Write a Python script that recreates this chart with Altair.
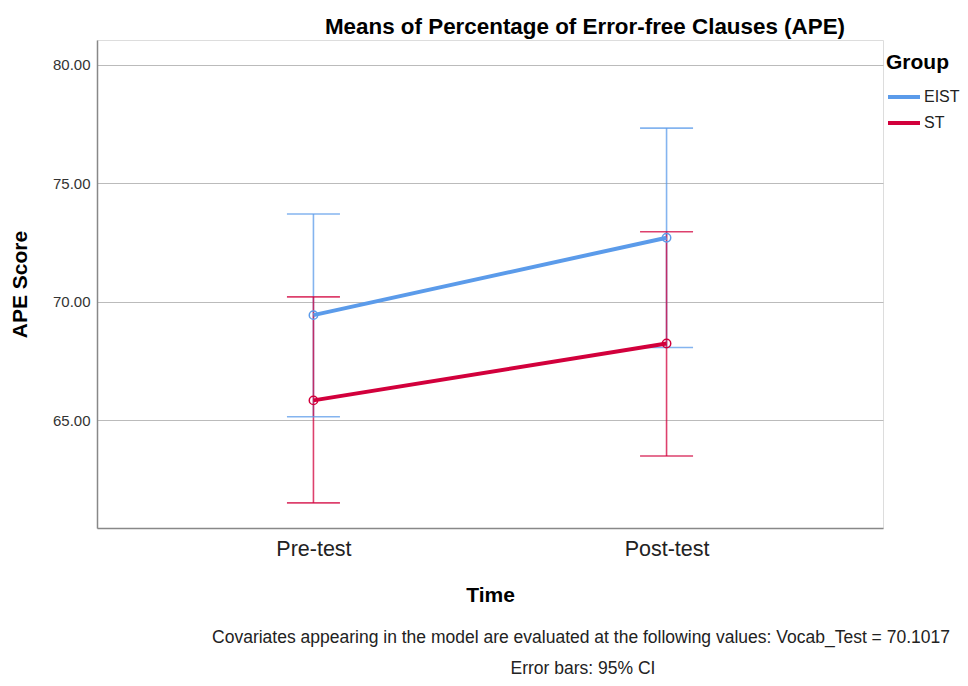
import altair as alt
import pandas as pd

times = ["Pre-test", "Post-test"]
groups = ["EIST", "ST"]
eist_mean = [69.43, 72.70]
eist_lower = [65.14, 68.06]
eist_upper = [73.70, 77.33]
st_mean = [65.83, 68.23]
st_lower = [61.50, 63.48]
st_upper = [70.20, 72.95]

rows = []
for i, t in enumerate(times):
    rows.append({"Time": t, "Group": "EIST", "mean": eist_mean[i], "lower": eist_lower[i], "upper": eist_upper[i]})
for i, t in enumerate(times):
    rows.append({"Time": t, "Group": "ST", "mean": st_mean[i], "lower": st_lower[i], "upper": st_upper[i]})
df = pd.DataFrame(rows)

FONT = "Liberation Sans"
colors = ["#5B9BEA", "#D2003C"]

x_enc = alt.X("Time:N", sort=times,
              scale=alt.Scale(type="point", padding=0.613),
              axis=alt.Axis(title="Time", labelAngle=0, labelFontSize=21.5, labelColor="#222222",
                            labelFont=FONT, labelPadding=10, ticks=False, domainColor="#888888",
                            domainWidth=1.5, titleFont=FONT, titleFontSize=21, titleFontWeight="bold",
                            titleColor="#000000", titlePadding=25, grid=False))
y_scale = alt.Scale(domain=[60.44, 81.05], nice=False, zero=False)
y_axis = alt.Axis(title="APE Score", values=[65, 70, 75, 80], format=".2f", labelFontSize=15,
                  labelFont=FONT, labelColor="#333333", ticks=False, labelPadding=7,
                  domainColor="#888888", domainWidth=1.5, gridColor="#BBBBBB", gridWidth=1.2,
                  titleFont=FONT, titleFontSize=21, titleFontWeight="bold", titleColor="#000000",
                  titlePadding=22)
legend = alt.Legend(title="Group", orient="none", legendX=789, legendY=12, padding=0,
                    titleFont=FONT, titleFontSize=21, titleFontWeight="bold",
                    titleColor="#000000", titlePadding=6,
                    labelFont=FONT, labelFontSize=16, labelColor="#222222",
                    symbolType="stroke", symbolStrokeWidth=4, symbolSize=1024,
                    symbolOpacity=1, rowPadding=-7, labelOffset=2)
color_enc = alt.Color("Group:N", sort=groups, scale=alt.Scale(domain=groups, range=colors),
                      legend=legend)

base = alt.Chart(df)

whisker = base.mark_rule(strokeWidth=1.6, opacity=0.75).encode(
    x=x_enc, y=alt.Y("lower:Q", scale=y_scale, axis=y_axis), y2="upper:Q", color=color_enc)
cap_hi = base.mark_tick(size=53, thickness=1.6, opacity=0.75).encode(
    x=x_enc, y=alt.Y("upper:Q", scale=y_scale), color=color_enc)
cap_lo = base.mark_tick(size=53, thickness=1.6, opacity=0.75).encode(
    x=x_enc, y=alt.Y("lower:Q", scale=y_scale), color=color_enc)
lines = base.mark_line(strokeWidth=4).encode(
    x=x_enc, y=alt.Y("mean:Q", scale=y_scale), color=color_enc, detail="Group:N")
pts = base.mark_point(filled=False, size=70, strokeWidth=1.5, opacity=1).encode(
    x=x_enc, y=alt.Y("mean:Q", scale=y_scale), color=color_enc)

title_text = ["Means of Percentage of Error-free Clauses (APE)"]
foot1 = ["Covariates appearing in the model are evaluated at the following values: Vocab_Test = 70.1017"]
foot2 = ["Error bars: 95% CI"]

title = alt.Chart(pd.DataFrame({"t": title_text})).mark_text(
    font=FONT, fontSize=22.4, fontWeight="bold", color="#000000", align="center", baseline="middle"
).encode(text="t:N", x=alt.value(488), y=alt.value(-13))
f1 = alt.Chart(pd.DataFrame({"t": foot1})).mark_text(
    font=FONT, fontSize=17.5, color="#222222", align="center", baseline="middle"
).encode(text="t:N", x=alt.value(484), y=alt.value(598))
f2 = alt.Chart(pd.DataFrame({"t": foot2})).mark_text(
    font=FONT, fontSize=17.5, color="#222222", align="center", baseline="alphabetic"
).encode(text="t:N", x=alt.value(486), y=alt.value(634))

chart = alt.layer(whisker, cap_hi, cap_lo, lines, pts, title, f1, f2).properties(
    width=786, height=488,
    autosize=alt.AutoSizeParams(type="none"),
    padding={"left": 89, "top": 32, "right": 77, "bottom": 150},
).configure_view(stroke=None).configure(background="white")

chart.save("out.html", embed_options={"renderer": "svg", "actions": False})
